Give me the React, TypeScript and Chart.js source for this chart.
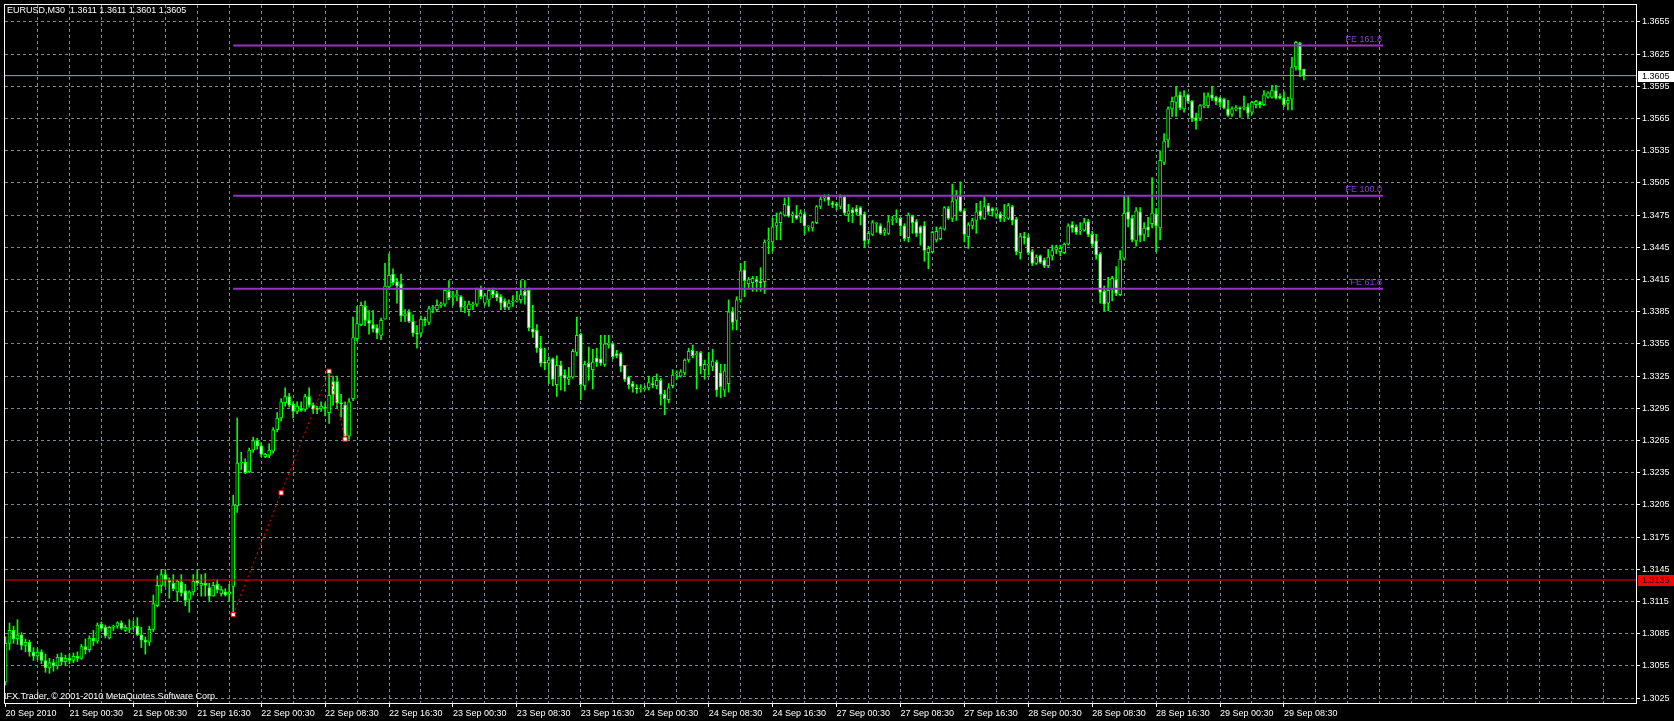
import React, { useEffect, useRef } from 'react';
import { Chart, registerables } from 'chart.js';
Chart.register(...registerables);

// ---- data (EURUSD M30, bar index 0 = 20 Sep 2010 16:30) ----
const opens = [
1.3040,1.3076,1.3088,1.3080,1.3084,1.3074,1.3077,1.3068,1.3064,1.3068,
1.3060,1.3053,1.3058,1.3055,1.3063,1.3059,1.3062,1.3060,1.3064,1.3062,
1.3073,1.3070,1.3081,1.3078,1.3094,1.3091,1.3081,1.3091,1.3092,1.3095,
1.3088,1.3089,1.3091,1.3092,1.3084,1.3079,1.3077,1.3089,1.3111,1.3130,
1.3140,1.3135,1.3132,1.3124,1.3133,1.3125,1.3117,1.3124,1.3135,1.3130,
1.3132,1.3128,1.3120,1.3131,1.3122,1.3124,1.3122,1.3129,1.3204,1.3244,
1.3245,1.3236,1.3256,1.3265,1.3260,1.3250,1.3251,1.3255,1.3275,1.3286,
1.3300,1.3306,1.3299,1.3292,1.3295,1.3294,1.3306,1.3298,1.3295,1.3295,
1.3296,1.3291,1.3320,1.3320,1.3300,1.3298,1.3269,1.3304,1.3360,1.3373,
1.3390,1.3377,1.3373,1.3370,1.3363,1.3378,1.3408,1.3420,1.3413,1.3411,
1.3381,1.3385,1.3376,1.3365,1.3365,1.3378,1.3375,1.3388,1.3387,1.3391,
1.3392,1.3404,1.3399,1.3400,1.3399,1.3389,1.3387,1.3391,1.3392,1.3406,
1.3393,1.3396,1.3405,1.3402,1.3399,1.3395,1.3389,1.3394,1.3395,1.3396,
1.3404,1.3405,1.3369,1.3368,1.3351,1.3338,1.3337,1.3341,1.3317,1.3335,
1.3326,1.3322,1.3324,1.3347,1.3364,1.3316,1.3337,1.3331,1.3342,1.3341,
1.3336,1.3354,1.3355,1.3346,1.3346,1.3335,1.3324,1.3318,1.3314,1.3313,
1.3313,1.3314,1.3318,1.3316,1.3321,1.3308,1.3303,1.3316,1.3327,1.3325,
1.3328,1.3340,1.3349,1.3345,1.3347,1.3331,1.3335,1.3334,1.3338,1.3328,
1.3312,1.3318,1.3385,1.3377,1.3396,1.3424,1.3411,1.3412,1.3415,1.3413,
1.3413,1.3451,1.3450,1.3465,1.3468,1.3475,1.3484,1.3475,1.3475,1.3473,
1.3476,1.3464,1.3463,1.3468,1.3483,1.3491,1.3492,1.3486,1.3485,1.3483,
1.3492,1.3476,1.3480,1.3481,1.3482,1.3476,1.3452,1.3457,1.3467,1.3465,
1.3459,1.3458,1.3470,1.3471,1.3472,1.3465,1.3454,1.3474,1.3469,1.3464,
1.3465,1.3440,1.3441,1.3452,1.3453,1.3462,1.3481,1.3472,1.3489,1.3493,
1.3479,1.3455,1.3465,1.3470,1.3479,1.3472,1.3484,1.3481,1.3476,1.3476,
1.3472,1.3472,1.3483,1.3471,1.3440,1.3455,1.3454,1.3441,1.3430,1.3437,
1.3433,1.3428,1.3437,1.3443,1.3441,1.3440,1.3448,1.3466,1.3464,1.3460,
1.3461,1.3469,1.3457,1.3451,1.3439,1.3404,1.3393,1.3406,1.3415,1.3401,
1.3435,1.3478,1.3472,1.3451,1.3478,1.3457,1.3464,1.3467,1.3476,1.3463,
1.3524,1.3545,1.3574,1.3580,1.3587,1.3574,1.3587,1.3581,1.3566,1.3565,
1.3577,1.3577,1.3587,1.3585,1.3584,1.3583,1.3574,1.3569,1.3574,1.3575,
1.3575,1.3576,1.3571,1.3578,1.3580,1.3578,1.3585,1.3585,1.3591,1.3586,
1.3584,1.3579,1.3583,1.3613,1.3635,1.3611
];
const highs = [
1.3082,1.3095,1.3092,1.3098,1.3086,1.3080,1.3079,1.3072,1.3071,1.3070,
1.3066,1.3062,1.3061,1.3066,1.3067,1.3065,1.3066,1.3067,1.3068,1.3075,
1.3080,1.3083,1.3088,1.3095,1.3096,1.3093,1.3092,1.3093,1.3096,1.3097,
1.3093,1.3098,1.3097,1.3100,1.3091,1.3082,1.3092,1.3121,1.3139,1.3145,
1.3145,1.3137,1.3140,1.3135,1.3140,1.3131,1.3125,1.3140,1.3145,1.3140,
1.3141,1.3132,1.3133,1.3135,1.3129,1.3127,1.3131,1.3214,1.3286,1.3254,
1.3248,1.3258,1.3268,1.3267,1.3263,1.3253,1.3262,1.3277,1.3291,1.3304,
1.3314,1.3309,1.3301,1.3301,1.3301,1.3308,1.3314,1.3300,1.3297,1.3301,
1.3300,1.3330,1.3325,1.3325,1.3308,1.3301,1.3304,1.3380,1.3390,1.3394,
1.3395,1.3386,1.3386,1.3373,1.3379,1.3430,1.3439,1.3425,1.3416,1.3420,
1.3387,1.3387,1.3382,1.3372,1.3381,1.3380,1.3390,1.3391,1.3396,1.3394,
1.3406,1.3414,1.3404,1.3405,1.3400,1.3395,1.3395,1.3394,1.3407,1.3409,
1.3402,1.3406,1.3407,1.3404,1.3401,1.3397,1.3396,1.3400,1.3404,1.3414,
1.3414,1.3407,1.3391,1.3373,1.3362,1.3351,1.3343,1.3342,1.3344,1.3339,
1.3331,1.3333,1.3350,1.3380,1.3365,1.3339,1.3352,1.3350,1.3351,1.3363,
1.3363,1.3363,1.3356,1.3349,1.3347,1.3335,1.3325,1.3320,1.3317,1.3317,
1.3316,1.3325,1.3324,1.3327,1.3323,1.3312,1.3318,1.3331,1.3330,1.3331,
1.3341,1.3351,1.3354,1.3348,1.3348,1.3340,1.3347,1.3350,1.3340,1.3336,
1.3336,1.3396,1.3389,1.3399,1.3430,1.3432,1.3417,1.3418,1.3418,1.3426,
1.3452,1.3463,1.3472,1.3477,1.3478,1.3491,1.3492,1.3478,1.3484,1.3480,
1.3478,1.3465,1.3469,1.3484,1.3492,1.3494,1.3494,1.3488,1.3487,1.3494,
1.3493,1.3485,1.3482,1.3484,1.3483,1.3478,1.3460,1.3470,1.3468,1.3467,
1.3463,1.3474,1.3474,1.3480,1.3473,1.3467,1.3477,1.3475,1.3471,1.3465,
1.3469,1.3446,1.3460,1.3464,1.3464,1.3483,1.3483,1.3504,1.3498,1.3506,
1.3481,1.3468,1.3472,1.3486,1.3488,1.3492,1.3486,1.3482,1.3482,1.3478,
1.3485,1.3486,1.3484,1.3473,1.3458,1.3459,1.3457,1.3443,1.3438,1.3438,
1.3435,1.3443,1.3447,1.3447,1.3447,1.3449,1.3467,1.3469,1.3466,1.3468,
1.3472,1.3471,1.3460,1.3457,1.3440,1.3409,1.3417,1.3418,1.3427,1.3442,
1.3493,1.3493,1.3475,1.3482,1.3482,1.3468,1.3473,1.3510,1.3481,1.3535,
1.3551,1.3576,1.3585,1.3595,1.3590,1.3591,1.3588,1.3582,1.3570,1.3578,
1.3589,1.3589,1.3595,1.3586,1.3585,1.3584,1.3582,1.3576,1.3577,1.3576,
1.3586,1.3579,1.3581,1.3582,1.3581,1.3591,1.3590,1.3596,1.3596,1.3588,
1.3590,1.3585,1.3622,1.3637,1.3636,1.3611
];
const lows = [
1.3037,1.3070,1.3076,1.3075,1.3070,1.3068,1.3064,1.3060,1.3061,1.3057,
1.3049,1.3048,1.3050,1.3052,1.3056,1.3055,1.3057,1.3058,1.3059,1.3061,
1.3066,1.3068,1.3074,1.3076,1.3088,1.3081,1.3080,1.3088,1.3090,1.3089,
1.3087,1.3086,1.3089,1.3083,1.3072,1.3066,1.3074,1.3087,1.3110,1.3123,
1.3129,1.3118,1.3125,1.3115,1.3120,1.3111,1.3105,1.3121,1.3130,1.3120,
1.3120,1.3115,1.3120,1.3123,1.3120,1.3120,1.3115,1.3103,1.3198,1.3238,
1.3234,1.3235,1.3254,1.3257,1.3250,1.3249,1.3249,1.3253,1.3273,1.3283,
1.3297,1.3296,1.3286,1.3290,1.3292,1.3292,1.3296,1.3290,1.3290,1.3292,
1.3288,1.3281,1.3298,1.3295,1.3287,1.3266,1.3266,1.3302,1.3358,1.3372,
1.3372,1.3364,1.3366,1.3360,1.3359,1.3378,1.3407,1.3410,1.3393,1.3376,
1.3376,1.3375,1.3362,1.3351,1.3362,1.3372,1.3373,1.3384,1.3385,1.3389,
1.3390,1.3396,1.3391,1.3395,1.3385,1.3384,1.3381,1.3387,1.3390,1.3397,
1.3391,1.3390,1.3398,1.3395,1.3387,1.3387,1.3387,1.3390,1.3394,1.3393,
1.3392,1.3367,1.3361,1.3347,1.3334,1.3331,1.3318,1.3316,1.3306,1.3312,
1.3311,1.3317,1.3323,1.3344,1.3303,1.3312,1.3321,1.3313,1.3334,1.3335,
1.3334,1.3351,1.3341,1.3342,1.3329,1.3320,1.3313,1.3310,1.3309,1.3310,
1.3312,1.3312,1.3314,1.3313,1.3298,1.3289,1.3300,1.3314,1.3322,1.3324,
1.3326,1.3338,1.3342,1.3313,1.3327,1.3322,1.3326,1.3330,1.3306,1.3305,
1.3306,1.3310,1.3368,1.3368,1.3394,1.3399,1.3407,1.3404,1.3404,1.3404,
1.3402,1.3439,1.3441,1.3452,1.3452,1.3474,1.3473,1.3468,1.3471,1.3468,
1.3457,1.3460,1.3460,1.3467,1.3481,1.3488,1.3484,1.3482,1.3480,1.3481,
1.3475,1.3469,1.3468,1.3475,1.3466,1.3445,1.3448,1.3456,1.3459,1.3457,
1.3456,1.3457,1.3466,1.3468,1.3456,1.3451,1.3450,1.3458,1.3455,1.3447,
1.3432,1.3425,1.3440,1.3450,1.3452,1.3461,1.3471,1.3469,1.3470,1.3478,
1.3450,1.3444,1.3462,1.3458,1.3471,1.3471,1.3475,1.3474,1.3472,1.3469,
1.3469,1.3471,1.3466,1.3438,1.3434,1.3448,1.3438,1.3428,1.3429,1.3430,
1.3426,1.3426,1.3433,1.3439,1.3437,1.3439,1.3447,1.3459,1.3457,1.3457,
1.3460,1.3455,1.3446,1.3434,1.3393,1.3386,1.3386,1.3395,1.3400,1.3400,
1.3433,1.3464,1.3450,1.3446,1.3450,1.3451,1.3455,1.3463,1.3441,1.3452,
1.3522,1.3538,1.3567,1.3567,1.3573,1.3571,1.3579,1.3562,1.3555,1.3563,
1.3575,1.3575,1.3582,1.3578,1.3576,1.3574,1.3567,1.3567,1.3572,1.3566,
1.3573,1.3566,1.3569,1.3575,1.3575,1.3577,1.3584,1.3584,1.3583,1.3583,
1.3576,1.3573,1.3573,1.3610,1.3604,1.3601
];
const closes = [
1.3076,1.3088,1.3080,1.3084,1.3074,1.3077,1.3068,1.3064,1.3068,1.3060,
1.3053,1.3058,1.3055,1.3063,1.3059,1.3062,1.3060,1.3064,1.3062,1.3073,
1.3070,1.3081,1.3078,1.3093,1.3090,1.3083,1.3091,1.3092,1.3095,1.3090,
1.3091,1.3089,1.3092,1.3084,1.3079,1.3077,1.3089,1.3113,1.3130,1.3140,
1.3135,1.3133,1.3127,1.3134,1.3123,1.3116,1.3124,1.3134,1.3132,1.3132,
1.3130,1.3120,1.3130,1.3126,1.3126,1.3121,1.3124,1.3205,1.3244,1.3245,
1.3235,1.3256,1.3265,1.3260,1.3252,1.3252,1.3256,1.3275,1.3286,1.3301,
1.3306,1.3298,1.3292,1.3297,1.3293,1.3306,1.3298,1.3294,1.3294,1.3297,
1.3295,1.3307,1.3308,1.3300,1.3299,1.3269,1.3301,1.3361,1.3374,1.3391,
1.3377,1.3374,1.3369,1.3365,1.3377,1.3409,1.3419,1.3412,1.3409,1.3381,
1.3383,1.3376,1.3365,1.3364,1.3378,1.3377,1.3388,1.3389,1.3391,1.3392,
1.3405,1.3398,1.3400,1.3400,1.3389,1.3389,1.3392,1.3391,1.3406,1.3399,
1.3400,1.3405,1.3401,1.3398,1.3393,1.3389,1.3393,1.3395,1.3396,1.3401,
1.3400,1.3370,1.3366,1.3351,1.3337,1.3337,1.3340,1.3322,1.3335,1.3325,
1.3323,1.3324,1.3348,1.3363,1.3317,1.3336,1.3333,1.3338,1.3338,1.3337,
1.3355,1.3356,1.3343,1.3344,1.3334,1.3322,1.3317,1.3315,1.3313,1.3313,
1.3313,1.3319,1.3317,1.3321,1.3308,1.3304,1.3314,1.3326,1.3328,1.3329,
1.3340,1.3348,1.3344,1.3346,1.3334,1.3336,1.3336,1.3339,1.3312,1.3315,
1.3330,1.3385,1.3375,1.3396,1.3423,1.3414,1.3415,1.3416,1.3413,1.3412,
1.3450,1.3451,1.3464,1.3468,1.3477,1.3485,1.3474,1.3475,1.3472,1.3477,
1.3465,1.3464,1.3468,1.3483,1.3490,1.3492,1.3489,1.3485,1.3484,1.3492,
1.3477,1.3479,1.3477,1.3478,1.3475,1.3451,1.3458,1.3468,1.3467,1.3458,
1.3461,1.3469,1.3470,1.3471,1.3465,1.3453,1.3475,1.3468,1.3458,1.3458,
1.3442,1.3444,1.3459,1.3460,1.3463,1.3482,1.3472,1.3488,1.3494,1.3479,
1.3457,1.3466,1.3470,1.3478,1.3474,1.3483,1.3478,1.3479,1.3480,1.3472,
1.3473,1.3484,1.3470,1.3441,1.3455,1.3454,1.3440,1.3430,1.3436,1.3431,
1.3428,1.3436,1.3442,1.3445,1.3444,1.3448,1.3465,1.3463,1.3459,1.3461,
1.3468,1.3457,1.3448,1.3438,1.3403,1.3392,1.3405,1.3416,1.3402,1.3434,
1.3477,1.3471,1.3452,1.3479,1.3456,1.3463,1.3461,1.3477,1.3465,1.3526,
1.3544,1.3574,1.3581,1.3586,1.3575,1.3586,1.3581,1.3565,1.3563,1.3577,
1.3578,1.3586,1.3584,1.3581,1.3580,1.3575,1.3568,1.3574,1.3575,1.3574,
1.3576,1.3570,1.3580,1.3581,1.3578,1.3587,1.3589,1.3591,1.3584,1.3584,
1.3578,1.3582,1.3613,1.3636,1.3610,1.3605
];

const xTickLabels = [
  '20 Sep 2010', '21 Sep 00:30', '21 Sep 08:30', '21 Sep 16:30',
  '22 Sep 00:30', '22 Sep 08:30', '22 Sep 16:30',
  '23 Sep 00:30', '23 Sep 08:30', '23 Sep 16:30',
  '24 Sep 00:30', '24 Sep 08:30', '24 Sep 16:30',
  '27 Sep 00:30', '27 Sep 08:30', '27 Sep 16:30',
  '28 Sep 00:30', '28 Sep 08:30', '28 Sep 16:30',
  '29 Sep 00:30', '29 Sep 08:30'
];
const yTickValues = [
  1.3025, 1.3055, 1.3085, 1.3115, 1.3145, 1.3175, 1.3205, 1.3235, 1.3265, 1.3295, 1.3325,
  1.3355, 1.3385, 1.3415, 1.3445, 1.3475, 1.3505, 1.3535, 1.3565, 1.3595, 1.3625, 1.3655
];

// Fibonacci expansion
const feLevels = [1.36331, 1.34930, 1.34064];
const feLabels = ['FE 161.8', 'FE 100.0', 'FE 61.8'];
const feStartBar = 57;
const feEndBar = 344.8;
const fiboBars = [57, 69, 81, 85];
const fiboPrices = [1.31028, 1.32162, 1.33295, 1.32663];

const bidPrice = 1.3605;
const alertPrice = 1.3135;
const titleText = 'EURUSD,M30  1.3611 1.3611 1.3601 1.3605';
const copyrightText = 'IFX Trader, \u00A9 2001-2010 MetaQuotes Software Corp.';

const X_MIN = -0.125;
const X_MAX = 408.125;
const Y_MIN = 1.30204;
const Y_MAX = 1.36708;

const FONT = '9px "Liberation Sans", Arial, sans-serif';
const GRID = '#778899';
const LIME = '#00ff00';

export default function App() {
  const ref = useRef<HTMLCanvasElement>(null);

  useEffect(() => {
    document.body.style.margin = '0';
    document.body.style.background = '#000';
    const canvas = ref.current;
    if (!canvas) return;

    const idx = closes.map((_, i) => i);
    const wickData = idx.map((i) => ({ x: i, y: [lows[i], highs[i]] }));
    const bodyData = idx.map((i) => ({
      x: i,
      y: [Math.min(opens[i], closes[i]), Math.max(opens[i], closes[i])],
    }));
    const bodyFill = idx.map((i) => (closes[i] < opens[i] ? '#ffffff' : '#000000'));

    const hLine = (x0: number, x1: number, y: number) => [
      { x: x0, y },
      { x: x1, y },
    ];

    const overlay = {
      id: 'mtOverlay',
      beforeDraw(chart: any) {
        const c = chart.ctx;
        c.save();
        c.fillStyle = '#000';
        c.fillRect(0, 0, chart.width, chart.height);
        c.restore();
      },
      afterDraw(chart: any) {
        const c = chart.ctx;
        const xs = chart.scales.x;
        const ys = chart.scales.y;
        const area = chart.chartArea;
        c.save();
        // frame
        c.strokeStyle = '#ffffff';
        c.lineWidth = 1;
        c.strokeRect(area.left - 0.5, area.top - 0.5, area.right - area.left + 1, area.bottom - area.top + 1);

        c.font = FONT;
        c.textBaseline = 'middle';
        // FE labels
        c.fillStyle = '#8a3cd6';
        c.textAlign = 'right';
        const feRight = xs.getPixelForValue(feEndBar) - 1;
        feLevels.forEach((lv, k) => {
          c.fillText(feLabels[k], feRight, ys.getPixelForValue(lv) - 6);
        });

        // title + copyright
        c.textAlign = 'left';
        c.fillStyle = '#ffffff';
        c.fillText(titleText, 7, 11);
        c.fillText(copyrightText, 4, 697);

        // price boxes on the axis
        const box = (price: number, bg: string, fg: string) => {
          const y = ys.getPixelForValue(price);
          c.fillStyle = bg;
          c.fillRect(area.right + 2, Math.round(y) - 5, chart.width - area.right - 2, 11);
          c.fillStyle = fg;
          c.textAlign = 'left';
          c.fillText(price.toFixed(4), area.right + 6, Math.round(y) + 0.5);
        };
        box(bidPrice, '#ffffff', '#000000');
        box(alertPrice, '#ff0000', '#000000');
        c.restore();
      },
    };

    const chart = new Chart(canvas, {
      type: 'bar',
      data: {
        datasets: [
          {
            type: 'line',
            order: 0,
            data: fiboBars.map((b, k) => ({ x: b, y: fiboPrices[k] })),
            borderColor: '#ff0000',
            borderWidth: 1,
            borderDash: [2, 3],
            pointStyle: 'rect',
            pointRadius: 3,
            pointBackgroundColor: '#ffffff',
            pointBorderColor: '#ff0000',
            pointBorderWidth: 1,
            tension: 0,
          },
          ...feLevels.map((lv) => ({
            type: 'line',
            order: 1,
            data: hLine(feStartBar, feEndBar, lv),
            borderColor: '#9932cc',
            borderWidth: 2,
            pointRadius: 0,
          })),
          {
            type: 'line',
            order: 2,
            data: hLine(X_MIN, X_MAX, bidPrice),
            borderColor: '#9aa4ae',
            borderWidth: 1,
            pointRadius: 0,
          },
          {
            type: 'line',
            order: 2,
            data: hLine(X_MIN, X_MAX, alertPrice),
            borderColor: '#ff0000',
            borderWidth: 1,
            pointRadius: 0,
          },
          {
            type: 'bar',
            order: 3,
            data: bodyData,
            backgroundColor: bodyFill,
            borderColor: LIME,
            borderWidth: 1,
            borderSkipped: false,
            barThickness: 3,
            minBarLength: 1,
            grouped: false,
          },
          {
            type: 'bar',
            order: 4,
            data: wickData,
            backgroundColor: LIME,
            borderWidth: 0,
            barThickness: 1,
            grouped: false,
          },
        ] as any,
      },
      options: {
        responsive: false,
        maintainAspectRatio: false,
        devicePixelRatio: 1,
        animation: false,
        events: [],
        layout: { padding: { left: 3, top: 3, right: 0, bottom: 0 } },
        plugins: { legend: { display: false }, tooltip: { enabled: false } },
        scales: {
          x: {
            type: 'linear',
            offset: false,
            min: X_MIN,
            max: X_MAX,
            afterBuildTicks: (s: any) => {
              const t = [];
              for (let v = 0; v <= 408; v += 8) t.push({ value: v });
              s.ticks = t;
            },
            afterFit: (s: any) => {
              s.height = 18;
              s.paddingLeft = 0;
              s.paddingRight = 0;
            },
            border: { display: false, dash: [3, 3] },
            grid: {
              offset: false,
              color: (ctx: any) =>
                ctx.tick && (ctx.tick.value === 0 || ctx.tick.value >= 408) ? 'rgba(0,0,0,0)' : GRID,
              lineWidth: 1,
              tickLength: 4,
              tickColor: (ctx: any) =>
                ctx.tick && ctx.tick.value % 16 === 0 && ctx.tick.value / 16 < xTickLabels.length
                  ? '#ffffff'
                  : 'rgba(0,0,0,0)',
              tickBorderDash: [],
            },
            ticks: {
              autoSkip: false,
              maxRotation: 0,
              minRotation: 0,
              align: 'start',
              padding: 1,
              color: '#ffffff',
              font: { family: '"Liberation Sans", Arial, sans-serif', size: 9 },
              callback: (v: any) => {
                const n = Number(v);
                if (n % 16 !== 0) return '';
                return xTickLabels[n / 16] ?? '';
              },
            },
          },
          y: {
            type: 'linear',
            position: 'right',
            min: Y_MIN,
            max: Y_MAX,
            afterBuildTicks: (s: any) => {
              s.ticks = yTickValues.map((v) => ({ value: v }));
            },
            afterFit: (s: any) => {
              s.width = 38;
              s.paddingTop = 0;
              s.paddingBottom = 0;
            },
            border: { display: false, dash: [3, 3] },
            grid: {
              color: GRID,
              lineWidth: 1,
              tickLength: 4,
              tickColor: '#ffffff',
              tickBorderDash: [],
            },
            ticks: {
              autoSkip: false,
              padding: 2,
              color: '#ffffff',
              font: { family: '"Liberation Sans", Arial, sans-serif', size: 9 },
              callback: (v: any) => Number(v).toFixed(4),
            },
          },
        },
      } as any,
      plugins: [overlay],
    });

    return () => chart.destroy();
  }, []);

  return (
    <div style={{ width: 1674, height: 721, background: '#000' }}>
      <canvas ref={ref} width={1674} height={721} style={{ display: 'block' }} />
    </div>
  );
}
